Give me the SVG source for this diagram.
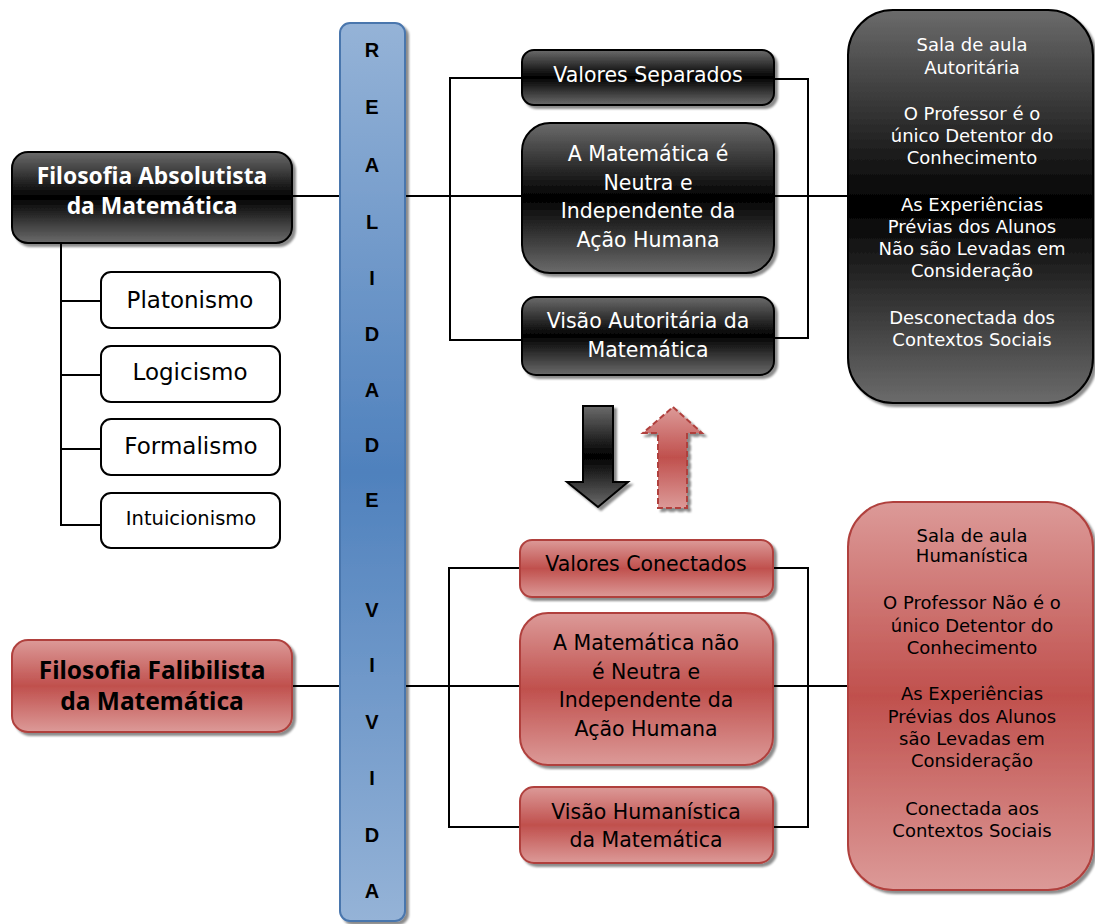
<svg xmlns="http://www.w3.org/2000/svg" width="1095" height="924" viewBox="0 0 1095 924">
<defs>
<linearGradient id="gDark" x1="0" y1="0" x2="0" y2="1">
<stop offset="0" stop-color="#6b6b6b"/><stop offset="0.5" stop-color="#000"/><stop offset="1" stop-color="#6b6b6b"/>
</linearGradient>
<linearGradient id="gRed" x1="0" y1="0" x2="0" y2="1">
<stop offset="0" stop-color="#dc9a98"/><stop offset="0.5" stop-color="#c0504d"/><stop offset="1" stop-color="#dc9a98"/>
</linearGradient>
<linearGradient id="gBlue" x1="0" y1="0" x2="0" y2="1">
<stop offset="0" stop-color="#95b3d7"/><stop offset="0.5" stop-color="#4f81bd"/><stop offset="1" stop-color="#95b3d7"/>
</linearGradient>
<filter id="sh" x="-10%" y="-10%" width="130%" height="130%">
<feDropShadow dx="3" dy="3" stdDeviation="1" flood-color="#000" flood-opacity="0.45"/>
</filter>
<style>
.dark{fill:url(#gDark);stroke:#000;stroke-width:2;filter:url(#sh)}
.red{fill:url(#gRed);stroke:#b0413e;stroke-width:2;filter:url(#sh)}
.white{fill:#fff;stroke:#000;stroke-width:2}
.conn{fill:none;stroke:#000;stroke-width:2}
text{font-family:"DejaVu Sans","Liberation Sans",sans-serif;text-anchor:middle;dominant-baseline:central}
.tw{fill:#fff;font-size:20.5px}
.tb{fill:#000;font-size:20.5px}
.big{font-family:"Noto Sans","DejaVu Sans",sans-serif;font-size:22.8px;font-weight:bold}
.big2{font-family:"Noto Sans","DejaVu Sans",sans-serif;font-size:24.5px;font-weight:bold}
.lst{fill:#000;font-size:23px}
.bar{font-family:"Liberation Sans",Arial,sans-serif;font-weight:bold;font-size:20px;fill:#000}
.rt{font-size:18px}
</style>
</defs>

<g id="connectors">
<path class="conn" d="M292,196 H848"/>
<path class="conn" d="M292,686 H848"/>
<path class="conn" d="M522,78 H450 V340 H522"/>
<path class="conn" d="M774,79 H808 V338 H774"/>
<path class="conn" d="M520,568 H449 V827 H520"/>
<path class="conn" d="M773,568 H808 V827 H773"/>
<path class="conn" d="M61,243 V525 H101 M61,301 H101 M61,375 H101 M61,449 H101"/>
</g>

<g id="bar">
<rect x="340" y="23" width="65" height="898" rx="10" fill="url(#gBlue)" stroke="#4a76ad" stroke-width="2" filter="url(#sh)"/>
<text class="bar" x="372" y="50">R</text>
<text class="bar" x="372" y="107">E</text>
<text class="bar" x="372" y="165">A</text>
<text class="bar" x="372" y="222">L</text>
<text class="bar" x="372" y="278">I</text>
<text class="bar" x="372" y="334">D</text>
<text class="bar" x="372" y="390">A</text>
<text class="bar" x="372" y="445">D</text>
<text class="bar" x="372" y="500">E</text>
<text class="bar" x="372" y="610">V</text>
<text class="bar" x="372" y="665">I</text>
<text class="bar" x="372" y="722">V</text>
<text class="bar" x="372" y="778">I</text>
<text class="bar" x="372" y="835">D</text>
<text class="bar" x="372" y="891">A</text>
</g>

<g id="absolutista">
<rect class="dark" x="12" y="152" width="280" height="91" rx="16"/>
<text class="tw big" x="152" y="175">Filosofia Absolutista</text>
<text class="tw big" x="152" y="205">da Matemática</text>
</g>

<g id="platonismo"><rect class="white" x="101" y="272" width="179" height="56" rx="10"/><text class="lst" x="190" y="300">Platonismo</text></g>
<g id="logicismo"><rect class="white" x="101" y="346" width="179" height="56" rx="10"/><text class="lst" x="190" y="372">Logicismo</text></g>
<g id="formalismo"><rect class="white" x="101" y="419" width="179" height="56" rx="10"/><text class="lst" x="191" y="446">Formalismo</text></g>
<g id="intuicionismo"><rect class="white" x="101" y="493" width="179" height="55" rx="10"/><text class="lst" style="font-size:19.5px" x="191" y="518">Intuicionismo</text></g>

<g id="valores-separados">
<rect class="dark" x="522" y="50" width="252" height="55" rx="12"/>
<text class="tw" x="648" y="75">Valores Separados</text>
</g>
<g id="neutra">
<rect class="dark" x="522" y="123" width="252" height="150" rx="28"/>
<text class="tw" x="648" y="154">A Matemática é</text>
<text class="tw" x="648" y="183">Neutra e</text>
<text class="tw" x="648" y="211">Independente da</text>
<text class="tw" x="648" y="240">Ação Humana</text>
</g>
<g id="visao-autoritaria">
<rect class="dark" x="522" y="297" width="252" height="78" rx="14"/>
<text class="tw" x="648" y="321">Visão Autoritária da</text>
<text class="tw" x="648" y="350">Matemática</text>
</g>

<g id="sala-autoritaria">
<rect class="dark" x="848" y="10" width="245" height="393" rx="45"/>
<text class="tw rt" x="972" y="44">Sala de aula</text>
<text class="tw rt" x="972" y="67">Autoritária</text>
<text class="tw rt" x="972" y="113">O Professor é o</text>
<text class="tw rt" x="972" y="135">único Detentor do</text>
<text class="tw rt" x="972" y="157">Conhecimento</text>
<text class="tw rt" x="972" y="204">As Experiências</text>
<text class="tw rt" x="972" y="226">Prévias dos Alunos</text>
<text class="tw rt" x="972" y="248">Não são Levadas em</text>
<text class="tw rt" x="972" y="270">Consideração</text>
<text class="tw rt" x="972" y="317">Desconectada dos</text>
<text class="tw rt" x="972" y="339">Contextos Sociais</text>
</g>

<g id="seta-baixo">
<polygon points="583,406 613,406 613,482 628,482 598,507 567,482 583,482" fill="url(#gDark)" stroke="#000" stroke-width="2" filter="url(#sh)"/>
</g>
<g id="seta-cima">
<polygon points="673,407 702,433 687,433 687,508 658,508 658,433 643,433" fill="url(#gRed)" stroke="#b0413e" stroke-width="2" stroke-dasharray="6,3" filter="url(#sh)"/>
</g>

<g id="falibilista">
<rect class="red" x="12" y="640" width="280" height="92" rx="16"/>
<text class="tb big2" x="152" y="669">Filosofia Falibilista</text>
<text class="tb big2" x="152" y="700">da Matemática</text>
</g>

<g id="valores-conectados">
<rect class="red" x="520" y="540" width="253" height="57" rx="12"/>
<text class="tb" x="646" y="564">Valores Conectados</text>
</g>
<g id="nao-neutra">
<rect class="red" x="520" y="613" width="253" height="152" rx="28"/>
<text class="tb" x="646" y="643">A Matemática não</text>
<text class="tb" x="646" y="672">é Neutra e</text>
<text class="tb" x="646" y="700">Independente da</text>
<text class="tb" x="646" y="729">Ação Humana</text>
</g>
<g id="visao-humanistica">
<rect class="red" x="520" y="787" width="253" height="76" rx="14"/>
<text class="tb" x="646" y="812">Visão Humanística</text>
<text class="tb" x="646" y="840">da Matemática</text>
</g>

<g id="sala-humanistica">
<rect class="red" x="848" y="502" width="245" height="388" rx="45"/>
<text class="tb rt" x="972" y="535">Sala de aula</text>
<text class="tb rt" x="972" y="555">Humanística</text>
<text class="tb rt" x="972" y="602">O Professor Não é o</text>
<text class="tb rt" x="972" y="625">único Detentor do</text>
<text class="tb rt" x="972" y="647">Conhecimento</text>
<text class="tb rt" x="972" y="693">As Experiências</text>
<text class="tb rt" x="972" y="716">Prévias dos Alunos</text>
<text class="tb rt" x="972" y="738">são Levadas em</text>
<text class="tb rt" x="972" y="760">Consideração</text>
<text class="tb rt" x="972" y="808">Conectada aos</text>
<text class="tb rt" x="972" y="830">Contextos Sociais</text>
</g>
</svg>
